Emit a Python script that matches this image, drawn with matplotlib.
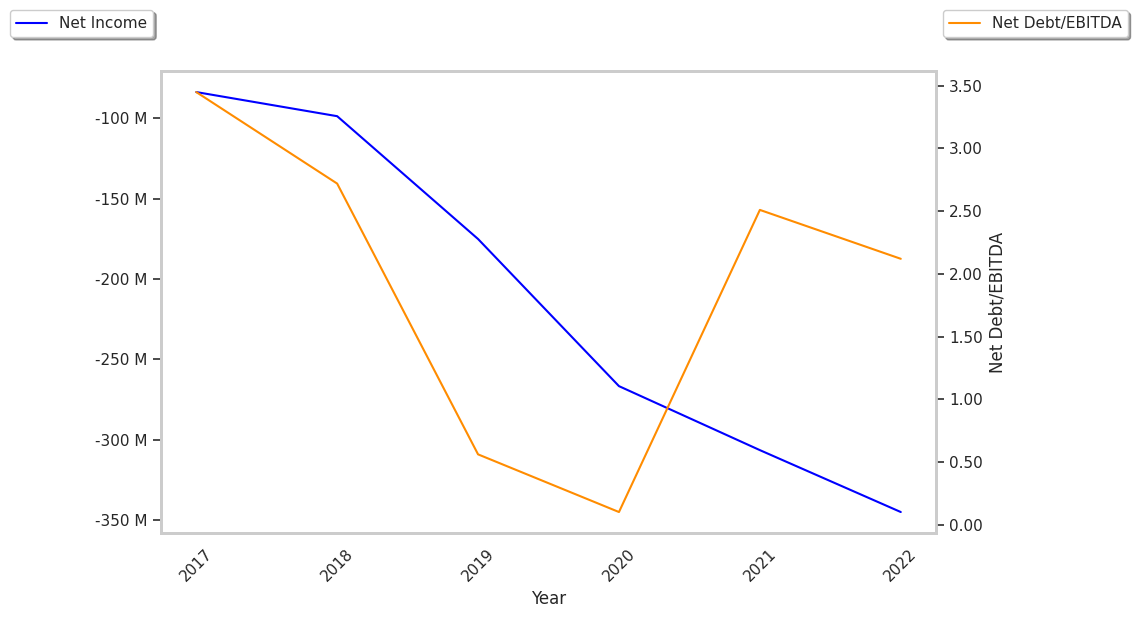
import matplotlib
matplotlib.use('Agg')
import matplotlib.pyplot as plt
import matplotlib.ticker as mticker
import seaborn as sns

# chart data
years = [2017, 2018, 2019, 2020, 2021, 2022]
net_income = [-83.8e6, -98.8e6, -175.2e6, -266.7e6, -306.5e6, -345e6]
net_debt_ebitda = [3.45, 2.72, 0.56, 0.10, 2.51, 2.12]

sns.set_theme(style='white')
plt.rcParams['font.family'] = ['DejaVu Sans']

fig = plt.figure(figsize=(11.38, 6.18), dpi=100)
ax = fig.add_axes([0.1415, 0.1375, 0.681, 0.7475])
ax2 = ax.twinx()

l1, = ax.plot(years, net_income, color='blue', lw=1.5, label='Net Income')
l2, = ax2.plot(years, net_debt_ebitda, color='darkorange', lw=1.5, label='Net Debt/EBITDA')

ax.yaxis.set_major_formatter(mticker.FuncFormatter(lambda v, p: '{:.0f} M'.format(v / 1e6)))
ax2.yaxis.set_major_formatter(mticker.FormatStrFormatter('%.2f'))
ax.set_xticks(years)
ax.set_xticklabels([str(y) for y in years], rotation=45)
ax.set_xlabel('Year')
ax2.set_ylabel('Net Debt/EBITDA')

for a in (ax, ax2):
    for s in a.spines.values():
        s.set_color('#cccccc')
        s.set_linewidth(2)
ax.tick_params(axis='y', left=True, length=6, color='#333333')
ax.tick_params(axis='x', bottom=True, length=0, pad=9.5)
ax2.tick_params(axis='y', right=True, length=6, color='#333333')

fig.legend(handles=[l1], loc='upper left', bbox_to_anchor=(0.009, 0.984), shadow=True, borderaxespad=0)
fig.legend(handles=[l2], loc='upper right', bbox_to_anchor=(0.991, 0.984), shadow=True, borderaxespad=0)

fig.savefig('out.png', dpi=100)
